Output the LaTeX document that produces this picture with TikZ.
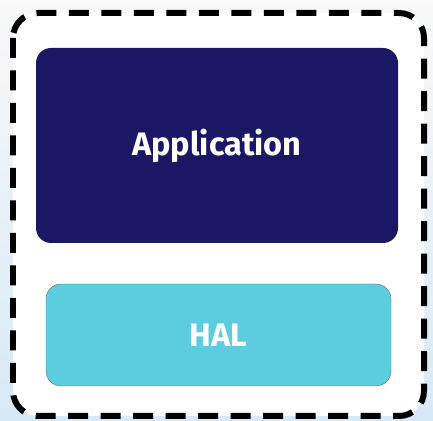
\documentclass[tikz,border=0pt]{standalone}
\usepackage{fontspec}
\setmainfont{Fira Sans}
\definecolor{appblue}{HTML}{1C1764}
\definecolor{halcyan}{HTML}{5BCDDF}
\definecolor{bgblue}{HTML}{D6E9F6}
\tikzset{
  layer/.style={rounded corners=0.3cm, text=white, font=\fontsize{18.5}{22}\selectfont\bfseries},
}
\begin{document}
\begin{tikzpicture}[x=0.02cm, y=-0.02cm]
    % Sfondo
    \shade[top color=gray!5, bottom color=bgblue] (0,0) rectangle (433,421);
    \useasboundingbox (0,0) rectangle (433,421);
    \fill[white, rounded corners=0.5cm] (13,13) rectangle (424,416);
    \draw[line width=0.12cm, dash pattern=on 0.4cm off 0.25cm, rounded corners=0.5cm] (13,13) rectangle (424,416);

    % Livelli
    \node[layer, fill=appblue, minimum width=362*0.02cm, minimum height=195*0.02cm] (app) at (217,145.5) {Application};
    \node[layer, fill=halcyan, draw=black!60, line width=0.2pt, minimum width=345*0.02cm, minimum height=102*0.02cm] (hal) at (218.5,335) {HAL};
\end{tikzpicture}
\end{document}
